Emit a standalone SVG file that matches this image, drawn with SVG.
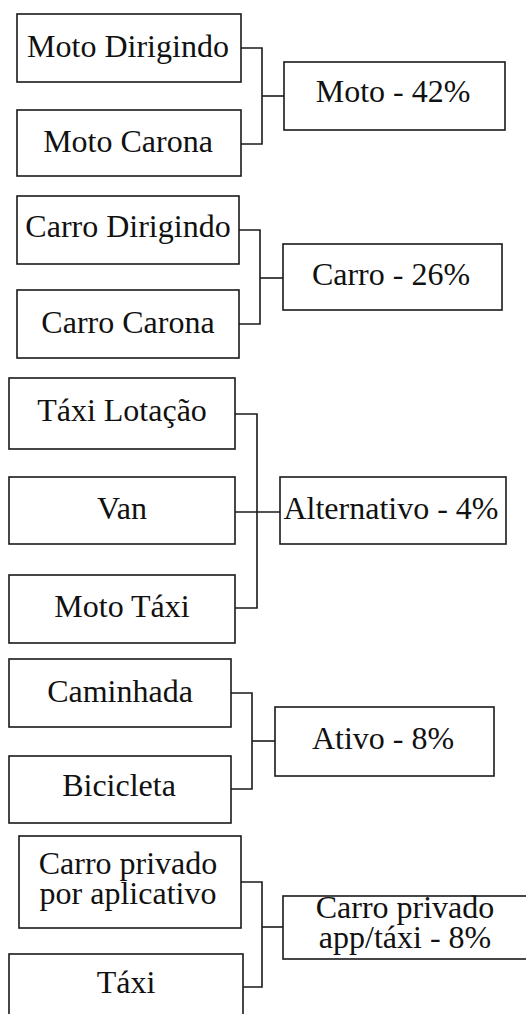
<svg xmlns="http://www.w3.org/2000/svg" width="526" height="1014" viewBox="0 0 526 1014">
<style>
.box{fill:#fff;stroke:#1a1a1a;stroke-width:1.6}
.t{font-size:32px;fill:#111;text-anchor:middle}
.c{fill:none;stroke:#1a1a1a;stroke-width:1.6}
</style>
<rect width="526" height="1014" fill="#fff"/>
<g id="connectors">
<polyline class="c" points="241,48 262,48 262,144 241,144"/>
<line class="c" x1="262" y1="96" x2="284" y2="96"/>
<polyline class="c" points="239,230 260,230 260,324 239,324"/>
<line class="c" x1="260" y1="278" x2="283" y2="278"/>
<polyline class="c" points="235,414 257,414 257,608 235,608"/>
<line class="c" x1="235" y1="512" x2="280" y2="512"/>
<polyline class="c" points="231,693 252,693 252,789 231,789"/>
<line class="c" x1="252" y1="741" x2="275" y2="741"/>
<polyline class="c" points="241,882 262,882 262,987 243,987"/>
<line class="c" x1="262" y1="927" x2="283" y2="927"/>
</g>
<g font-family="Liberation Serif, Times New Roman, serif">
<g id="moto-dirigindo"><rect class="box" x="17" y="14" width="224" height="68"/><text class="t" x="128" y="57">Moto Dirigindo</text></g>
<g id="moto-carona"><rect class="box" x="17" y="110" width="224" height="66"/><text class="t" x="128" y="152">Moto Carona</text></g>
<g id="moto"><rect class="box" x="284" y="62" width="221" height="68"/><text class="t" x="393" y="102">Moto - 42%</text></g>
<g id="carro-dirigindo"><rect class="box" x="17" y="196" width="222" height="68"/><text class="t" x="128" y="237">Carro Dirigindo</text></g>
<g id="carro-carona"><rect class="box" x="17" y="290" width="222" height="68"/><text class="t" x="128" y="333">Carro Carona</text></g>
<g id="carro"><rect class="box" x="283" y="244" width="219" height="66"/><text class="t" x="391" y="285">Carro - 26%</text></g>
<g id="taxi-lotacao"><rect class="box" x="9" y="378" width="226" height="71"/><text class="t" x="122" y="421">Táxi Lotação</text></g>
<g id="van"><rect class="box" x="9" y="477" width="226" height="67"/><text class="t" x="122" y="519">Van</text></g>
<g id="moto-taxi"><rect class="box" x="9" y="575" width="226" height="68"/><text class="t" x="122" y="617">Moto Táxi</text></g>
<g id="alternativo"><rect class="box" x="280" y="477" width="226" height="67"/><text class="t" x="391" y="519">Alternativo - 4%</text></g>
<g id="caminhada"><rect class="box" x="9" y="659" width="222" height="68"/><text class="t" x="120" y="702">Caminhada</text></g>
<g id="bicicleta"><rect class="box" x="9" y="756" width="222" height="67"/><text class="t" x="119" y="796">Bicicleta</text></g>
<g id="ativo"><rect class="box" x="275" y="707" width="219" height="69"/><text class="t" x="383" y="749">Ativo - 8%</text></g>
<g id="carro-privado-aplicativo"><rect class="box" x="19" y="836" width="222" height="92"/><text class="t" x="128" y="874">Carro privado</text><text class="t" x="128" y="904">por aplicativo</text></g>
<g id="taxi"><rect class="box" x="9" y="954" width="234" height="70"/><text class="t" x="126" y="993">Táxi</text></g>
<g id="carro-privado-app-taxi"><rect class="box" x="283" y="896" width="250" height="63"/><text class="t" x="405" y="918">Carro privado</text><text class="t" x="405" y="948">app/táxi - 8%</text></g>
</g>
</svg>
